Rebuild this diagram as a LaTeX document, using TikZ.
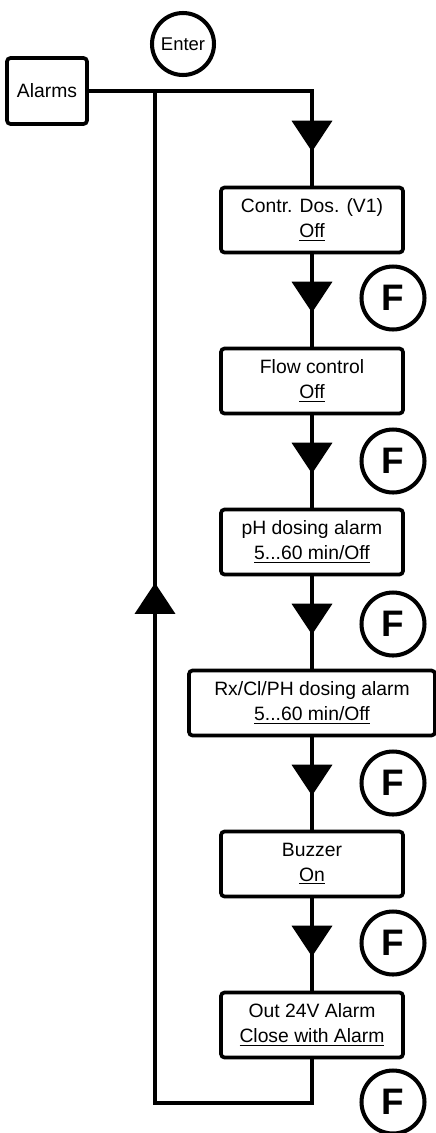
\documentclass[tikz,border=0pt]{standalone}
\usepackage{fontspec}
\setmainfont{Liberation Sans}
\usetikzlibrary{arrows.meta,decorations.markings}

\begin{document}
\begin{tikzpicture}[x=0.02cm,y=-0.02cm,
menuBox/.style={shape=rectangle,draw,line width=2.1pt,rounded corners=2pt,
    minimum width=3.64cm,minimum height=1.3cm,align=center,inner sep=2pt,
    font=\fontsize{11}{14}\selectfont},
keyF/.style={shape=circle,draw,line width=2.3pt,minimum size=1.26cm,inner sep=0,
    font=\fontsize{21}{21}\selectfont\bfseries},
keyEnter/.style={shape=circle,draw,line width=2.3pt,minimum size=1.24cm,inner sep=0,
    font=\fontsize{10.5}{10.5}\selectfont},
link/.style={line width=2.2pt},
downLink/.style={link,postaction={decorate},decoration={markings,
    mark=at position -0.68cm with {\arrow{Triangle[width=0.8cm,length=0.62cm]}}}},
loopLink/.style={link,postaction={decorate},decoration={markings,
    mark=at position -9.84cm with {\arrow{Triangle[width=0.8cm,length=0.62cm]}}}}
]
\useasboundingbox (0,0) rectangle (436,1133);
\node[menuBox,minimum width=1.6cm,minimum height=1.32cm] (alarms) at (47,91) {Alarms};
\node[keyEnter] (enter) at (183,44) {Enter};
\node[menuBox] (b1) at (312,220) {Contr. Dos. (V1)\\\underline{Off}};
\node[menuBox] (b2) at (312,381) {Flow control\\\underline{Off}};
\node[menuBox] (b3) at (312,542) {pH dosing alarm\\\underline{5...60 min/Off}};
\node[menuBox,minimum width=4.92cm] (b4) at (312,703) {Rx/Cl/PH dosing alarm\\\underline{5...60 min/Off}};
\node[menuBox] (b5) at (312,864) {Buzzer\\\underline{On}};
\node[menuBox] (b6) at (312,1025) {Out 24V Alarm\\\underline{Close with Alarm}};
\node[keyF] (f1) at (393,298) {F};
\node[keyF] (f2) at (393,461) {F};
\node[keyF] (f3) at (393,624) {F};
\node[keyF] (f4) at (393,783) {F};
\node[keyF] (f5) at (393,943) {F};
\node[keyF] (f6) at (393,1102) {F};
\coordinate (junction) at (155,91);
\coordinate (loopBottom) at (312,1103);
\draw[downLink] (alarms.east) -| (b1.north);
\draw[downLink] (b1) -- (b2);
\draw[downLink] (b2) -- (b3);
\draw[downLink] (b3) -- (b4);
\draw[downLink] (b4) -- (b5);
\draw[downLink] (b5) -- (b6);
\draw[loopLink] (b6.south) -- (loopBottom) -| (junction);
\end{tikzpicture}
\end{document}
